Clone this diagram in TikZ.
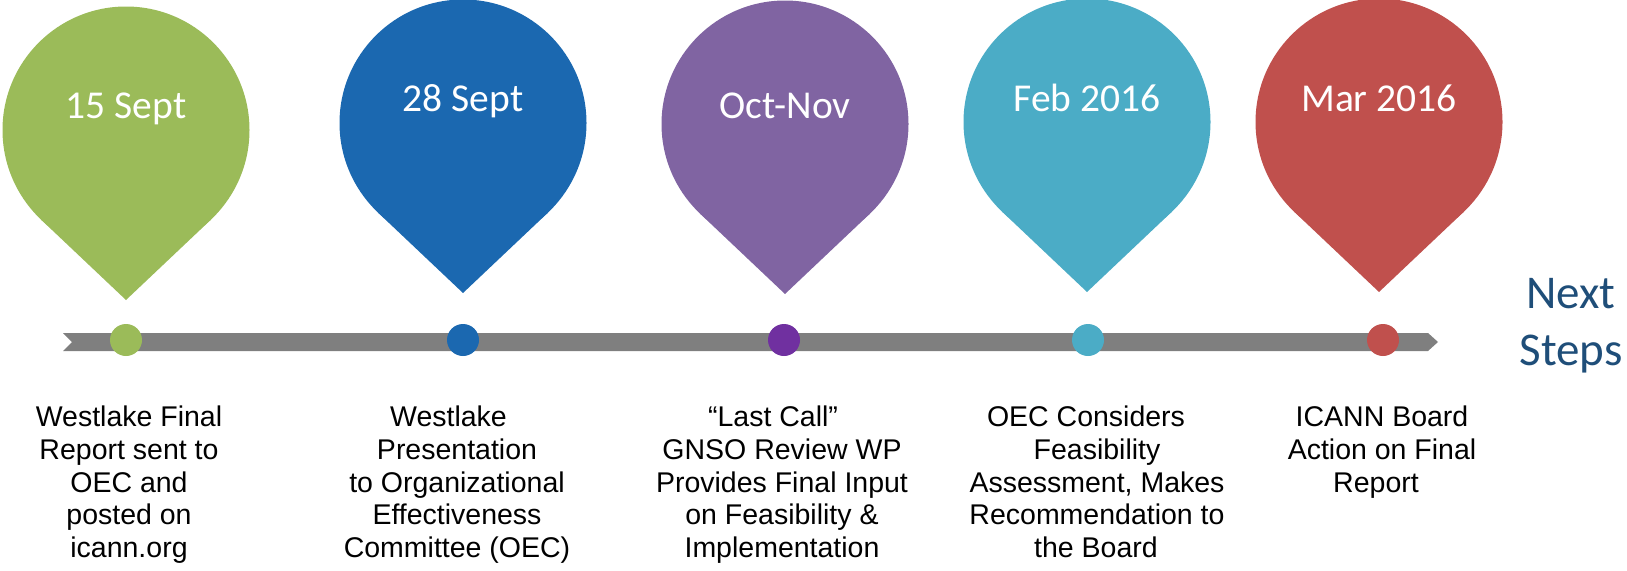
\documentclass[tikz,border=0pt]{standalone}
\usepackage{fontspec}
\setmainfont{Liberation Sans}
\newfontfamily\pinfont{Carlito}
\usetikzlibrary{calc}
\definecolor{pgreen}{HTML}{9BBB59}
\definecolor{pblue}{HTML}{1B68B0}
\definecolor{ppurple}{HTML}{8064A2}
\definecolor{dpurple}{HTML}{7030A0}
\definecolor{pteal}{HTML}{4BACC6}
\definecolor{pred}{HTML}{C0504D}
\definecolor{bargray}{HTML}{7F7F7F}
\definecolor{nsblue}{HTML}{1F4E79}
% #1 cx, #2 circle centre y, #3 tip y, #4 colour
\newcommand\droppin[4]{%
  \pgfmathsetmacro\pinth{acos(123.5/(#3-#2))}%
  \fill[#4] (#1,#2) circle[radius=123.5pt];
  \fill[#4] (#1,#3) -- ($(#1,#2)+(270-\pinth:123.5pt)$) -- ($(#1,#2)+(270+\pinth:123.5pt)$) -- cycle;
}
\tikzset{
  pinlabel/.style={anchor=base, inner sep=0pt, text=white, font=\pinfont\fontsize{39.5}{41}\selectfont},
  dot/.style={circle, minimum size=32pt, inner sep=0pt, draw=none},
  desc/.style={anchor=north, inner sep=0pt, align=center, text=black, font=\fontsize{28.5}{32.7}\selectfont},
  nextsteps/.style={anchor=north, inner sep=0pt, align=center, text=nsblue, font=\pinfont\fontsize{47}{57}\selectfont}
}
\begin{document}
\begin{tikzpicture}[x=1pt,y=-1pt]
\useasboundingbox (0,0) rectangle (1627,570);
% pins
\droppin{126}{130}{300}{pgreen}
\droppin{463}{123}{293}{pblue}
\droppin{785}{124}{294}{ppurple}
\droppin{1087}{122}{292}{pteal}
\droppin{1379}{122}{292}{pred}
\node[pinlabel] (d1) at (126,118) {15 Sept};
\node[pinlabel] (d2) at (463,111) {28 Sept};
\node[pinlabel] (d3) at (785,118) {Oct-Nov};
\node[pinlabel] (d4) at (1087,111) {Feb 2016};
\node[pinlabel] (d5) at (1379,111) {Mar 2016};
% timeline bar
\fill[bargray] (63,333) -- (1428,333) -- (1438,342) -- (1428,351) -- (63,351) -- (72,342) -- cycle;
% dots
\node[dot, fill=pgreen] (m1) at (126,340) {};
\node[dot, fill=pblue] (m2) at (463,340) {};
\node[dot, fill=dpurple] (m3) at (784,340) {};
\node[dot, fill=pteal] (m4) at (1088,340) {};
\node[dot, fill=pred] (m5) at (1383,340) {};
% descriptions
\node[desc] (t1) at (129,406) {Westlake Final\\Report sent to\\OEC and\\posted on\\icann.org};
\node[desc] (t2) at (457,406) {Westlake\hspace*{17pt}\\Presentation\\to Organizational\\Effectiveness\\Committee (OEC)};
\node[desc] (t3) at (782,406) {“Last Call”\hspace*{18pt}\\GNSO Review WP\\Provides Final Input\\on Feasibility \&\hspace*{8pt}\\Implementation};
\node[desc] (t4) at (1097,406) {OEC Considers\hspace*{22pt}\\Feasibility\hspace*{12pt}\\Assessment, Makes\\Recommendation to\\the Board\hspace*{2pt}};
\node[desc] (t5) at (1382,406) {ICANN Board\\Action on Final\hspace*{5pt}\\Report\hspace*{12pt}};
% next steps
\node[nextsteps] (ns) at (1571,278) {Next\\Steps};
\end{tikzpicture}
\end{document}
